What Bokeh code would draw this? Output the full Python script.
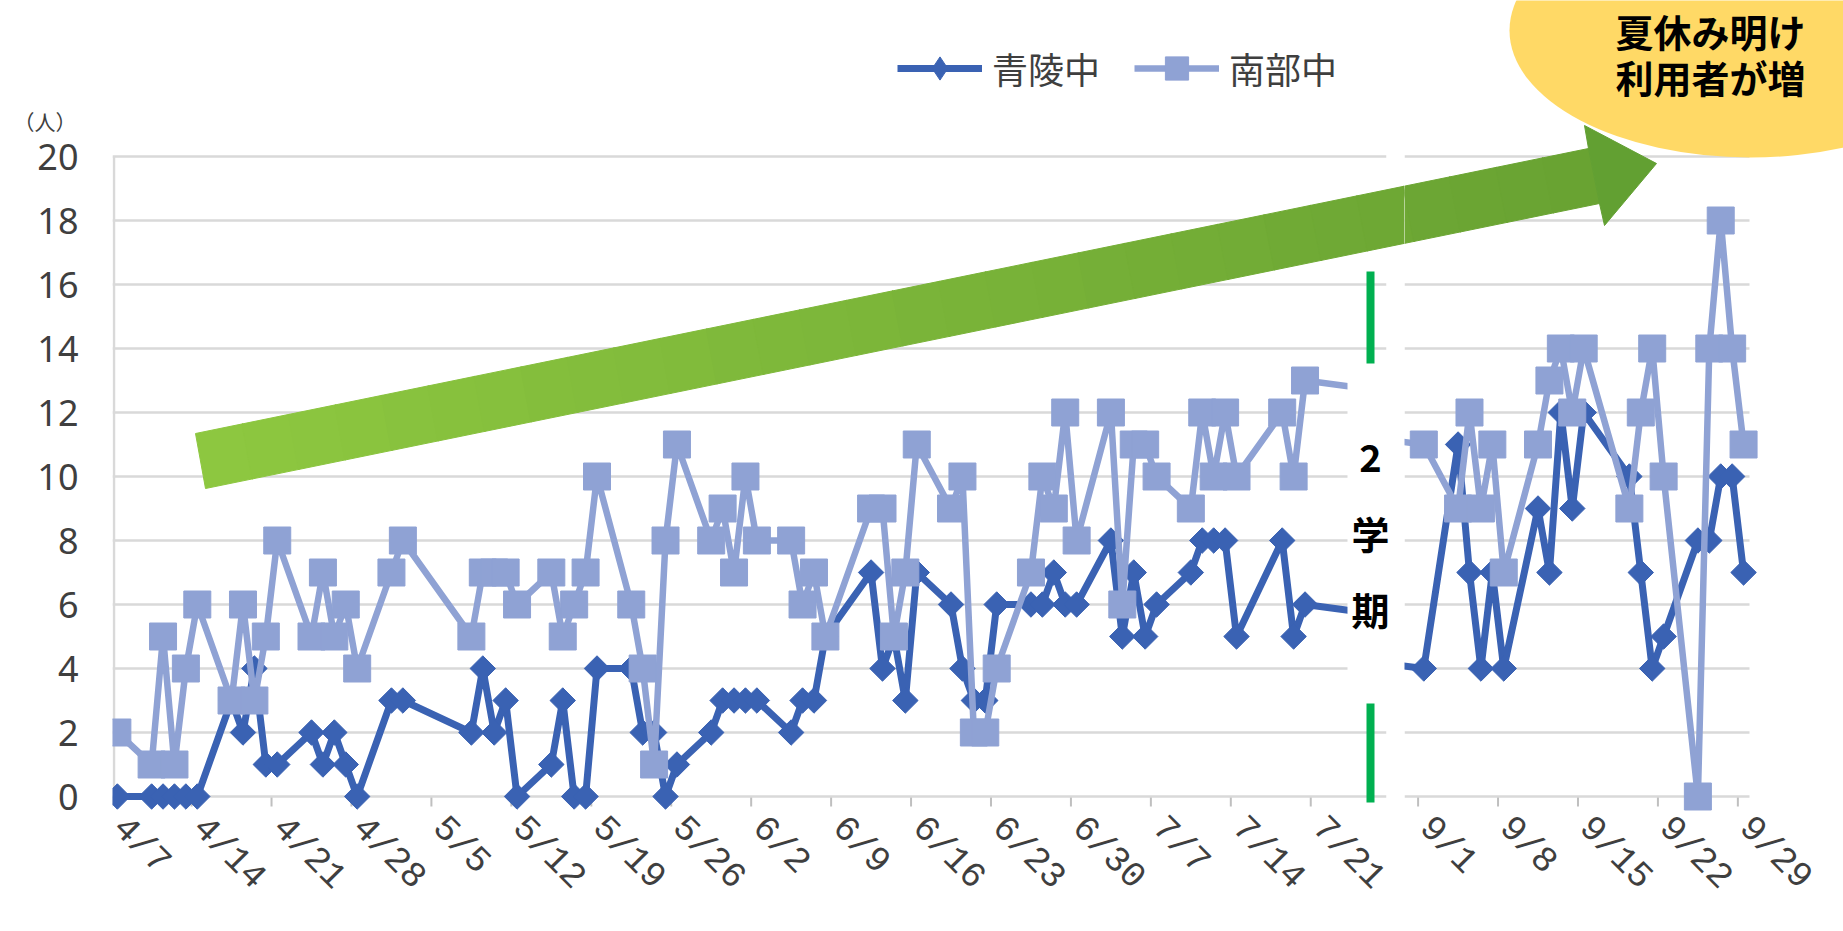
import math
import datetime
from bokeh.plotting import figure
from bokeh.models import ColumnDataSource, FixedTicker, Legend, LegendItem, Range1d, LinearAxis
from bokeh.layouts import row
from bokeh.embed import file_html
from bokeh.resources import INLINE
from bokeh.core.properties import value

# ---------------- data ----------------
YEAR = 2023
dates = [
    "4/7", "4/10", "4/11", "4/12", "4/13", "4/14", "4/17", "4/18", "4/19", "4/20", "4/21",
    "4/24", "4/25", "4/26", "4/27", "4/28",
    "5/1", "5/2", "5/8", "5/9", "5/10", "5/11", "5/12", "5/15", "5/16", "5/17", "5/18", "5/19",
    "5/22", "5/23", "5/24", "5/25", "5/26", "5/29", "5/30", "5/31",
    "6/1", "6/2", "6/5", "6/6", "6/7", "6/8", "6/12", "6/13", "6/14", "6/15", "6/16",
    "6/19", "6/20", "6/21", "6/22", "6/23", "6/26", "6/27", "6/28", "6/29", "6/30",
    "7/3", "7/4", "7/5", "7/6", "7/7", "7/10", "7/11", "7/12", "7/13", "7/14", "7/18", "7/19", "7/20",
    "8/10",
    "9/1", "9/4", "9/5", "9/6", "9/7", "9/8", "9/11", "9/12", "9/13", "9/14", "9/15",
    "9/19", "9/20", "9/21", "9/22", "9/25", "9/26", "9/27", "9/28", "9/29",
]
seiryo = [
    0, 0, 0, 0, 0, 0, 3, 2, 4, 1, 1,
    2, 1, 2, 1, 0,
    3, 3, 2, 4, 2, 3, 0, 1, 3, 0, 0, 4,
    4, 2, 2, 0, 1, 2, 3, 3,
    3, 3, 2, 3, 3, 5, 7, 4, 5, 3, 7,
    6, 4, 3, 3, 6, 6, 6, 7, 6, 6,
    8, 5, 7, 5, 6, 7, 8, 8, 8, 5, 8, 5, 6,
    5,
    4, 11, 7, 4, 7, 4, 9, 7, 12, 9, 12,
    10, 7, 4, 5, 8, 8, 10, 10, 7,
]
nanbu = [
    2, 1, 5, 1, 4, 6, 3, 6, 3, 5, 8,
    5, 7, 5, 6, 4,
    7, 8, 5, 7, 7, 7, 6, 7, 5, 6, 7, 10,
    6, 4, 1, 8, 11, 8, 9, 7,
    10, 8, 8, 6, 7, 5, 9, 9, 5, 7, 11,
    9, 10, 2, 2, 4, 7, 10, 9, 12, 8,
    12, 6, 11, 11, 10, 9, 12, 10, 12, 10, 12, 10, 13,
    12,
    11, 9, 12, 9, 11, 7, 11, 13, 14, 12, 14,
    9, 12, 14, 10, 0, 14, 18, 14, 11,
]
series_names = ["青陵中", "南部中"]
left_tick_labels = ["4/7", "4/14", "4/21", "4/28", "5/5", "5/12", "5/19", "5/26",
                    "6/2", "6/9", "6/16", "6/23", "6/30", "7/7", "7/14", "7/21"]
right_tick_labels = ["9/1", "9/8", "9/15", "9/22", "9/29"]
y_ticks = [0, 2, 4, 6, 8, 10, 12, 14, 16, 18, 20]
y_unit_label = "（人）"
term_label = ["2", "学", "期"]
callout_lines = ["夏休み明け", "利用者が増"]

# ---------------- geometry / style ----------------
BASE = datetime.date(YEAR, 4, 7)


def day(s):
    m, d = (int(v) for v in s.split("/"))
    return (datetime.date(YEAR, m, d) - BASE).days


DARK = "#3A62B3"
LIGHT = "#8FA2D4"
GRID = "#D9D9D9"
TXT = "#3F3F3F"
PX_DAY = 11.42
PX_UNIT = 32.0
Y0_PX = 796.0
H = 931
FRAME_BOTTOM = 812
LEFT_W = 1404          # left piece (incl. the blank gap)
LEFT_GRID_END = 1386   # where the left piece's gridlines stop
RIGHT_W = 1843 - LEFT_W
LABEL_SHIFT = 0.6      # days: moves rotated tick labels onto Excel's anchor point


def XL(px):
    return -0.5 + (px - 111.15) / PX_DAY


def XR(px):
    return (day("9/1") - 0.5) + (px - 1417.6) / PX_DAY


def YV(py):
    return (Y0_PX - py) / PX_UNIT


xs = [day(s) for s in dates]
src = ColumnDataSource(dict(x=xs, seiryo=seiryo, nanbu=nanbu))


def make_fig(width, x0, x1, left_border, yaxis):
    kw = dict(width=width, height=H, title=None,
              x_range=Range1d(x0, x1), y_range=Range1d(YV(FRAME_BOTTOM), YV(0)),
              output_backend="svg", toolbar_location=None,
              min_border_left=left_border, min_border_right=0,
              min_border_top=0, min_border_bottom=H - FRAME_BOTTOM)
    if not yaxis:
        kw["y_axis_location"] = None
    p = figure(**kw)
    p.grid.visible = False
    p.outline_line_color = None
    p.background_fill_color = "white"
    p.border_fill_color = "white"
    return p


def style_xaxis(p, labels):
    ticks = [day(s) - 0.5 for s in labels]
    label_pos = [t + LABEL_SHIFT for t in ticks]
    ax = p.xaxis[0]
    ax.ticker = FixedTicker(ticks=label_pos, minor_ticks=[])
    ax.major_label_overrides = {t: s for t, s in zip(label_pos, labels)}
    ax.major_label_orientation = -math.pi / 4
    ax.axis_line_color = None
    ax.major_tick_line_color = None
    ax.minor_tick_line_color = None
    ax.major_tick_in = 0
    ax.major_tick_out = 0
    ax.major_label_standoff = 10
    ax.major_label_text_font = "Liberation Mono"
    ax.major_label_text_font_size = "36px"
    ax.major_label_text_color = TXT
    # tick marks below the zero line
    p.segment(x0=ticks, y0=[0] * len(ticks), x1=ticks, y1=[YV(806)] * len(ticks),
              line_color="#BFBFBF", line_width=2)


def draw_series(p):
    r1 = p.line("x", "seiryo", source=src, line_color=DARK, line_width=7, line_join="round")
    r2 = p.scatter("x", "seiryo", source=src, marker="square", angle=math.pi / 4, size=18,
                   fill_color=DARK, line_color=DARK)
    r3 = p.line("x", "nanbu", source=src, line_color=LIGHT, line_width=6.5, line_join="round")
    r4 = p.scatter("x", "nanbu", source=src, marker="square", size=27,
                   fill_color=LIGHT, line_color=LIGHT)
    return r1, r2, r3, r4


def draw_arrow(p, fx):
    T1, T2 = (195, 433), (205, 488)
    H1, H2 = (1588, 148), (1599, 203)
    A1, TIP, A2 = (1584, 125), (1656, 163), (1604, 225)
    c0, c1 = (142, 200, 64), (104, 162, 50)
    n = 30
    pxs, pys, cols = [], [], []
    for i in range(n):
        a, b = i / n, min((i + 1.02) / n, 1.0)
        pts = [
            (T1[0] + (H1[0] - T1[0]) * a, T1[1] + (H1[1] - T1[1]) * a),
            (T1[0] + (H1[0] - T1[0]) * b, T1[1] + (H1[1] - T1[1]) * b),
            (T2[0] + (H2[0] - T2[0]) * b, T2[1] + (H2[1] - T2[1]) * b),
            (T2[0] + (H2[0] - T2[0]) * a, T2[1] + (H2[1] - T2[1]) * a),
        ]
        pxs.append([fx(q[0]) for q in pts])
        pys.append([YV(q[1]) for q in pts])
        t = (i + 0.5) / n
        c = tuple(int(round(c0[k] + (c1[k] - c0[k]) * t)) for k in range(3))
        cols.append("#%02X%02X%02X" % c)
    head = [H1, A1, TIP, A2, H2]
    pxs.append([fx(q[0]) for q in head])
    pys.append([YV(q[1]) for q in head])
    cols.append("#62A032")
    p.patches(pxs, pys, fill_color=cols, line_color=cols, line_width=1)


# ---------------- left panel ----------------
pl = make_fig(LEFT_W, XL(112), XL(LEFT_W), 112, True)
yax = pl.yaxis[0]
yax.ticker = FixedTicker(ticks=y_ticks, minor_ticks=[])
yax.axis_line_color = None
yax.major_tick_line_color = None
yax.minor_tick_line_color = None
yax.major_tick_in = 0
yax.major_tick_out = 0
yax.major_label_standoff = 34
yax.major_label_text_font = "Noto Sans"
yax.major_label_text_font_size = "36px"
yax.major_label_text_color = TXT

# unit label "(人)" as an outer axis with a single tick above 20
unit_pos = YV(120)
uax = LinearAxis(ticker=FixedTicker(ticks=[unit_pos], minor_ticks=[]),
                 major_label_overrides={unit_pos: y_unit_label},
                 axis_line_color=None, major_tick_line_color=None, minor_tick_line_color=None,
                 major_tick_in=0, major_tick_out=0, major_label_standoff=-42,
                 major_label_text_font="Noto Sans CJK JP", major_label_text_font_size="21px",
                 major_label_text_color=TXT)
pl.add_layout(uax, "left")

style_xaxis(pl, left_tick_labels)

ny = len(y_ticks)
pl.segment(x0=[XL(112)] * ny, y0=y_ticks, x1=[XL(LEFT_GRID_END)] * ny, y1=y_ticks,
           line_color=GRID, line_width=2.5)
pl.segment(x0=[XL(113.5)], y0=[y_ticks[0]], x1=[XL(113.5)], y1=[y_ticks[-1]],
           line_color=GRID, line_width=2.5)

r1, r2, r3, r4 = draw_series(pl)
# legend proxy for the diamond marker (not plotted: y is NaN)
leg_diamond = pl.scatter(x=[xs[0]], y=[float("nan")], marker="diamond", size=10,
                         fill_color=DARK, line_color=DARK)

# blank gap between the two pieces, "2学期" box and green bars
pl.quad(left=[XL(LEFT_GRID_END)], right=[XL(LEFT_W + 5)], top=[YV(-10)], bottom=[YV(830)],
        fill_color="white", line_color=None)
pl.quad(left=[XL(1347)], right=[XL(LEFT_W + 5)], top=[YV(363)], bottom=[YV(703)],
        fill_color="white", line_color=None)
pl.quad(left=[XL(1366), XL(1366)], right=[XL(1374), XL(1374)],
        top=[YV(271), YV(703)], bottom=[YV(363), YV(802)],
        fill_color="#00B050", line_color=None)
pl.text(x=[XL(1370)] * 3, y=[YV(457), YV(532), YV(608)], text=term_label,
        text_font=value("Noto Sans CJK JP"), text_font_style="bold", text_font_size="38px",
        text_align="center", text_baseline="middle", text_color="black")

draw_arrow(pl, XL)

legend = Legend(items=[LegendItem(label=series_names[0], renderers=[r1, leg_diamond]),
                       LegendItem(label=series_names[1], renderers=[r3, r4])],
                location=(897 - 112, FRAME_BOTTOM - 68 - 29), orientation="horizontal",
                glyph_width=85, glyph_height=58, label_standoff=10, spacing=34,
                padding=0, margin=0, border_line_color=None, background_fill_alpha=0,
                label_text_font="Noto Sans CJK JP", label_text_font_size="36px",
                label_text_color=TXT)
pl.add_layout(legend)

# ---------------- right panel ----------------
pr = make_fig(RIGHT_W, XR(LEFT_W), XR(1843), 0, False)
style_xaxis(pr, right_tick_labels)
pr.segment(x0=[XR(LEFT_W)] * ny, y0=y_ticks, x1=[XR(1749)] * ny, y1=y_ticks,
           line_color=GRID, line_width=2.5)
draw_series(pr)
pr.ellipse(x=[XR(1750)], y=[YV(30)], width=[482 / PX_DAY], height=[254 / PX_UNIT],
           fill_color="#FFD966", line_color=None)
pr.text(x=[XR(1615)] * 2, y=[YV(30), YV(76)], text=callout_lines,
        text_font=value("Noto Sans CJK JP"), text_font_style="bold", text_font_size="38px",
        text_align="left", text_baseline="middle", text_color="black")
draw_arrow(pr, XR)

layout = row(pl, pr)
open("out.html", "w").write(file_html(layout, INLINE, "chart"))
